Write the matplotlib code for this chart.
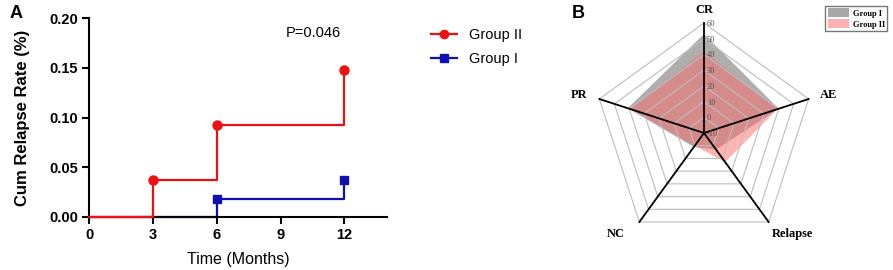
import numpy as np
import matplotlib
matplotlib.use("Agg")
import matplotlib.pyplot as plt
from matplotlib.patches import Patch

# panel A: cumulative relapse (step curves)
months_g2 = [0, 3, 6, 12]
rate_g2 = [0.0, 0.037, 0.092, 0.148]
months_g1 = [0, 6, 12]
rate_g1 = [0.0, 0.0185, 0.037]
x_ticks = [0, 3, 6, 9, 12]
y_ticks = [0.00, 0.05, 0.10, 0.15, 0.20]
p_text = "P=0.046"

# panel B: radar
radar_axes = ["CR", "AE", "Relapse", "NC", "PR"]
group1_vals = [53, 40, 3, 1, 41]
group2_vals = [42, 39, 13, 0, 39]
ring_vals = [-10, 0, 10, 20, 30, 40, 50, 60]

RED = "#ee1111"
BLUE = "#1010b0"

plt.rcParams["font.family"] = ["Liberation Sans", "DejaVu Sans"]
fig = plt.figure(figsize=(8.93, 2.70), dpi=100)

# ---------- A ----------
ax = fig.add_axes([89 / 893, 1 - 217 / 270, (387 - 89) / 893, (217 - 18) / 270])
ax.step(months_g1, rate_g1, where="post", color=BLUE, lw=1.6, zorder=2)
ax.plot(months_g1[1:], rate_g1[1:], "s", color=BLUE, ms=6, zorder=4)
ax.step(months_g2, rate_g2, where="post", color=RED, lw=1.6, zorder=3)
ax.plot(months_g2[1:], rate_g2[1:], "o", color=RED, ms=6.5, zorder=4)
ax.set_xlim(0, 14)
ax.set_ylim(0, 0.20)
ax.set_xticks(x_ticks)
ax.set_yticks(y_ticks)
ax.set_yticklabels(["%.2f" % v for v in y_ticks])
for s in ["top", "right"]:
    ax.spines[s].set_visible(False)
for s in ["left", "bottom"]:
    ax.spines[s].set_linewidth(1.5)
ax.tick_params(width=1.5, length=5, labelsize=10.5, pad=3)
for lab in ax.get_xticklabels() + ax.get_yticklabels():
    lab.set_fontweight("bold")
ax.set_ylabel("Cum Relapse Rate (%)", fontsize=12, fontweight="bold", labelpad=14)
ax.set_xlabel("Time (Months)", fontsize=11.5, labelpad=7)
for ln in ax.lines:
    ln.set_clip_on(False)
fig.text(313 / 893, 1 - 33 / 270, p_text, fontsize=10.5, ha="center", va="center")

h2, = ax.plot([], [], "-o", color=RED, lw=1.6, ms=6)
h1, = ax.plot([], [], "-s", color=BLUE, lw=1.6, ms=5.5)
fig.legend([h2, h1], ["Group II", "Group I"], loc="upper left",
           bbox_to_anchor=(418 / 893, 1 - 15 / 270), frameon=False,
           fontsize=10.5, handlelength=1.8, labelspacing=0.7)
fig.text(10 / 893, 1 - 13 / 270, "A", fontsize=13, fontweight="bold", va="center")

# ---------- B ----------
R = 110.0
rax = fig.add_axes([(704 - 130) / 893, (270 - 133 - 130) / 270, 260 / 893, 260 / 270])
rax.set_xlim(-130, 130)
rax.set_ylim(-130, 130)
rax.set_aspect("equal")
rax.axis("off")

n = len(radar_axes)
ang = np.pi / 2 - 2 * np.pi * np.arange(n) / n
vmin, vmax = ring_vals[0], ring_vals[-1]


def to_xy(vals):
    r = (np.asarray(vals, float) - vmin) / (vmax - vmin) * R
    return r * np.cos(ang), r * np.sin(ang)


x1, y1 = to_xy(group1_vals)
x2, y2 = to_xy(group2_vals)
rax.fill(x1, y1, color="#9a9a9a", alpha=0.8, lw=0, zorder=2)
rax.fill(x2, y2, color="#ff6a6a", alpha=0.5, lw=0, zorder=3)

for rv in ring_vals[1:]:
    gx, gy = to_xy([rv] * n)
    rax.plot(np.append(gx, gx[0]), np.append(gy, gy[0]), color="#bdbdbd", lw=0.8, zorder=4)
for a in ang:
    rax.plot([0, R * np.cos(a)], [0, R * np.sin(a)], color="black", lw=1.3, zorder=5)

for rv in ring_vals:
    r = (rv - vmin) / (vmax - vmin) * R
    rax.text(3, r - 1, str(rv), fontsize=6, color="#555555", family="Liberation Serif",
             ha="left", va="center", zorder=6)

label_off = [(0, 13), (20, 4), (24, -12), (-24, -12), (-20, 4)]
for name, a, (ox, oy) in zip(radar_axes, ang, label_off):
    rax.text(R * np.cos(a) + ox, R * np.sin(a) + oy, name, fontsize=9, fontweight="bold",
             family="Liberation Serif", ha="center", va="center")

fig.legend([Patch(facecolor="#a8a8a8", edgecolor="none"),
            Patch(facecolor="#ffb0b0", edgecolor="none")],
           ["Group I", "Group II"], loc="upper right", bbox_to_anchor=(891 / 893, 1 - 2 / 270),
           prop={"family": "Liberation Serif", "weight": "bold", "size": 6},
           frameon=True, fancybox=False, edgecolor="#555555", handlelength=2.6,
           handleheight=1.3, labelspacing=0.2, borderpad=0.25, handletextpad=0.4)
fig.text(572 / 893, 1 - 13 / 270, "B", fontsize=13, fontweight="bold", va="center")

fig.savefig("out.png", dpi=100)
